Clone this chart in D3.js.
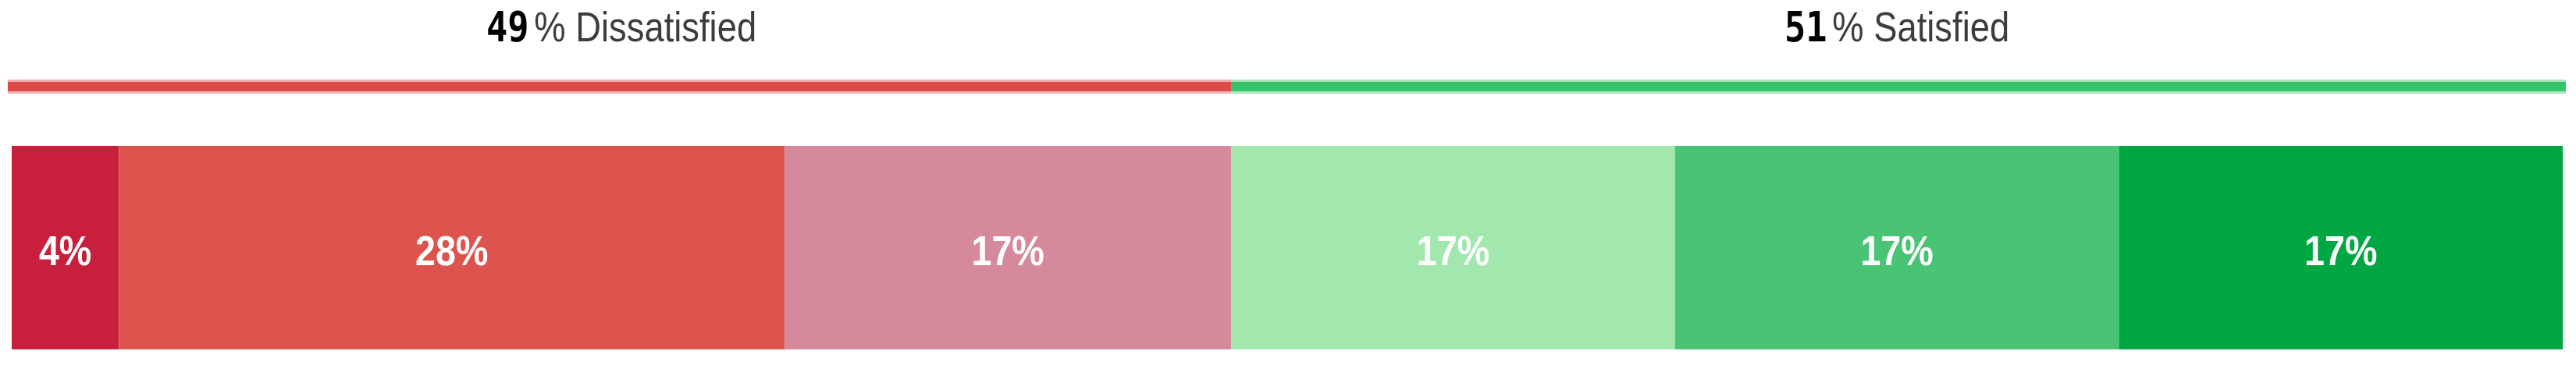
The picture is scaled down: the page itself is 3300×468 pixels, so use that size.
<!DOCTYPE html>
<html>
<head>
    <meta charset="utf-8">
    <style>
        body {
            margin: 0;
            background: #fff;
        }

        svg {
            display: block;
        }

        .head {
            font-family: "Liberation Sans", Arial, sans-serif;
            font-size: 54px;
            fill: #3c3c3c;
        }

        .head .num {
            font-family: "DejaVu Sans Mono", monospace;
            font-weight: bold;
            fill: #000;
        }

        .seg-label {
            font-family: "Liberation Sans", Arial, sans-serif;
            font-size: 53px;
            font-weight: bold;
            fill: #fff;
        }
    </style>
</head>

<body>
    <svg width="3300" height="468"></svg>

    <script src="https://d3js.org/d3.v7.min.js"></script>
    <script>

        // segments of the bar, left to right (width as drawn, % of bar)
        let categories = ["Very dissatisfied", "Dissatisfied", "Somewhat dissatisfied",
            "Somewhat satisfied", "Satisfied", "Very satisfied"]
        let shares = [4.2, 26.1, 17.5, 17.4, 17.4, 17.4]
        let segLabels = ["4%", "28%", "17%", "17%", "17%", "17%"]
        let segColors = ["#c81f3c", "#dd544e", "#d6899a", "#a2e8ae", "#48c474", "#00a642"]

        // the two groups over the bar
        let groups = ["Dissatisfied", "Satisfied"]
        let groupTotals = [49, 51]
        let groupCounts = [3, 3]
        let groupColors = ["#dc4b45", "#37c26c"]

        let width = 3300
        let height = 468
        let margin = { left: 15, right: 17 }

        let svg = d3.select("svg")

        let x = d3.scaleLinear()
            .domain([0, d3.sum(shares)])
            .range([margin.left, width - margin.right])

        let y = d3.scaleLinear()
            .domain([0, 1])
            .range([448, 187])

        // stack the segments
        let starts = d3.cumsum([0].concat(shares)).slice(0, shares.length)
        let segs = shares.map((s, i) => ({
            name: categories[i],
            x0: starts[i],
            x1: starts[i] + s,
            label: segLabels[i],
            color: segColors[i]
        }))

        // group extents on the same scale
        let grp = groups.map((g, i) => {
            let first = d3.sum(groupCounts.slice(0, i))
            let last = first + groupCounts[i]
            return {
                name: g,
                total: groupTotals[i],
                x0: starts[first],
                x1: d3.sum(shares.slice(0, last)),
                color: groupColors[i]
            }
        })

        // top lines (soft halo + core)
        let lineY = 111
        let lines = svg.append("g")

        lines.selectAll(".halo")
            .data(grp)
            .join("line")
            .attr("class", "halo")
            .attr("x1", (d, i) => i == 0 ? x(d.x0) - 5 : x(d.x0))
            .attr("x2", (d, i) => i == grp.length - 1 ? x(d.x1) + 4 : x(d.x1))
            .attr("y1", lineY)
            .attr("y2", lineY)
            .style("stroke", d => d.color)
            .style("stroke-opacity", 0.45)
            .style("stroke-width", 18)

        lines.selectAll(".core")
            .data(grp)
            .join("line")
            .attr("class", "core")
            .attr("x1", (d, i) => i == 0 ? x(d.x0) - 5 : x(d.x0))
            .attr("x2", (d, i) => i == grp.length - 1 ? x(d.x1) + 4 : x(d.x1))
            .attr("y1", lineY)
            .attr("y2", lineY)
            .style("stroke", d => d.color)
            .style("stroke-width", 12)

        // group headings
        let heads = svg.append("g")
            .selectAll("text")
            .data(grp)
            .join("text")
            .attr("class", "head")
            .attr("text-anchor", "middle")
            .attr("transform", d => `translate(${(x(d.x0) + x(d.x1)) / 2},53) scale(0.84,1)`)

        heads.append("tspan")
            .attr("class", "num")
            .text(d => d.total)

        heads.append("tspan")
            .attr("dx", 8)
            .text(d => "% " + d.name)

        // the bar
        svg.append("g")
            .selectAll("rect")
            .data(segs)
            .join("rect")
            .attr("x", d => x(d.x0))
            .attr("width", d => x(d.x1) - x(d.x0))
            .attr("y", y(1))
            .attr("height", y(0) - y(1))
            .style("fill", d => d.color)

        svg.append("g")
            .selectAll("text")
            .data(segs)
            .join("text")
            .attr("class", "seg-label")
            .attr("text-anchor", "middle")
            .attr("transform", d => `translate(${(x(d.x0) + x(d.x1)) / 2},340) scale(0.88,1)`)
            .text(d => d.label)

    </script>
</body>
</html>
